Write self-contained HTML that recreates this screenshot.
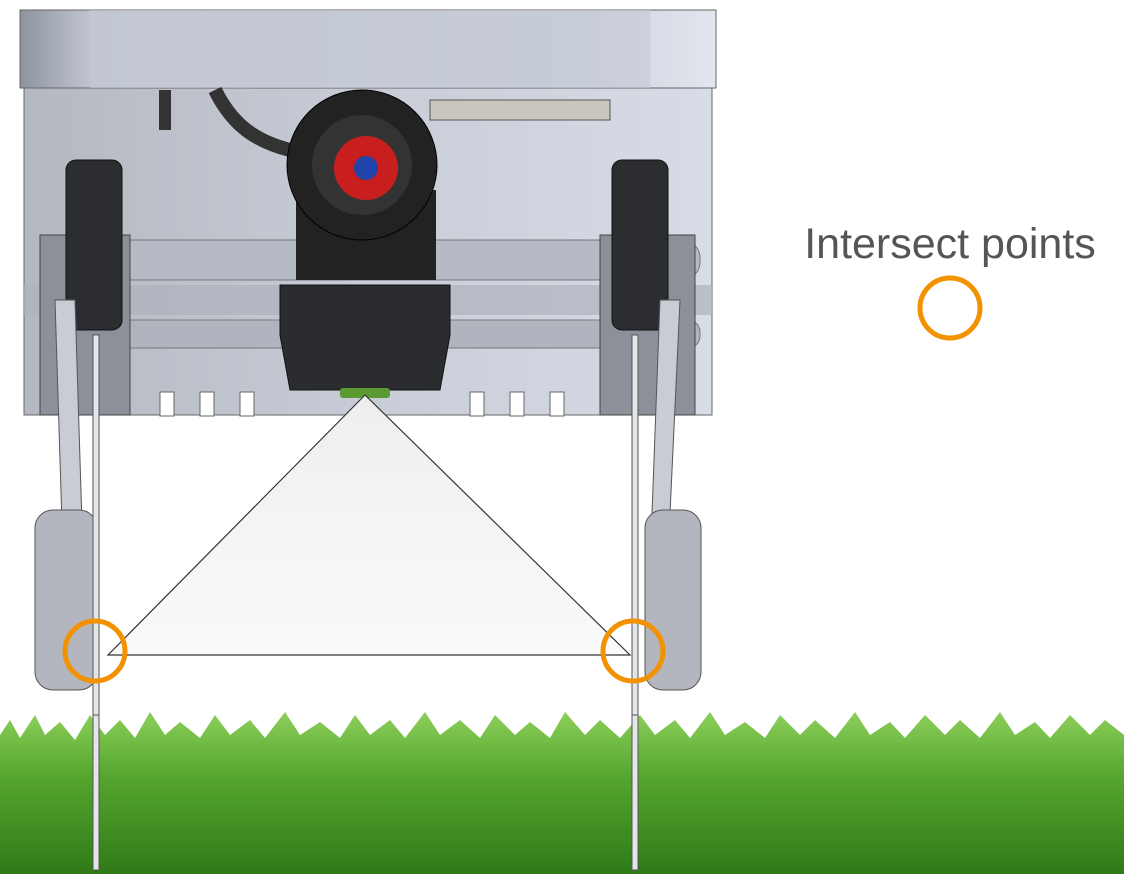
<!DOCTYPE html>
<html><head><meta charset="utf-8"><style>
html,body{margin:0;padding:0;background:#fff;}
svg{display:block}
</style></head><body>
<svg width="1124" height="874" viewBox="0 0 1124 874" xmlns="http://www.w3.org/2000/svg">
<defs>
<linearGradient id="top" x1="0" x2="1" y1="0" y2="0">
<stop offset="0" stop-color="#8e949e"/><stop offset="0.1" stop-color="#bfc4cf"/><stop offset="0.8" stop-color="#c9cfdc"/><stop offset="1" stop-color="#e2e6ee"/></linearGradient>
<linearGradient id="body" x1="0" x2="1" y1="0" y2="0">
<stop offset="0" stop-color="#b4b8c1"/><stop offset="0.5" stop-color="#c8ccd6"/><stop offset="1" stop-color="#d8dce6"/></linearGradient>
<linearGradient id="grass" x1="0" x2="0" y1="0" y2="1">
<stop offset="0" stop-color="#8ccf5a"/><stop offset="0.4" stop-color="#55a62e"/><stop offset="1" stop-color="#2f7a18"/></linearGradient>
<linearGradient id="tri" x1="0" x2="0" y1="0" y2="1">
<stop offset="0" stop-color="#eeeeee"/><stop offset="1" stop-color="#fafafa"/></linearGradient>
</defs>
<path d="M24 88 H712 V415 H24 Z" fill="url(#body)" stroke="#666" stroke-width="1"/>
<g fill="#fff" stroke="#666">
<rect x="160" y="392" width="14" height="24"/><rect x="200" y="392" width="14" height="24"/><rect x="240" y="392" width="14" height="24"/>
<rect x="470" y="392" width="14" height="24"/><rect x="510" y="392" width="14" height="24"/><rect x="550" y="392" width="14" height="24"/>
</g>
<rect x="20" y="10" width="696" height="78" fill="url(#top)" stroke="#666"/>
<rect x="90" y="10" width="560" height="78" fill="#c4cad6" opacity="0.6"/>
<rect x="40" y="240" width="660" height="40" rx="18" fill="#b6bac4" stroke="#777"/>
<rect x="40" y="320" width="660" height="28" rx="12" fill="#b0b4be" stroke="#777"/>
<rect x="24" y="285" width="688" height="30" fill="#aeb2bc" opacity="0.7"/>
<path d="M215 90 C230 120 250 140 290 150" stroke="#333" stroke-width="14" fill="none"/>
<path d="M165 90 V130" stroke="#333" stroke-width="12" fill="none"/>
<path d="M430 100 H610 V120 H430 Z" fill="#c9c6bf" stroke="#555"/>
<rect x="296" y="190" width="140" height="90" fill="#222"/>
<path d="M280 285 H450 V335 L440 390 H290 L280 335 Z" fill="#2a2c30" stroke="#111"/>
<circle cx="362" cy="165" r="75" fill="#222" stroke="#000"/>
<circle cx="362" cy="165" r="50" fill="#333"/>
<circle cx="366" cy="168" r="32" fill="#c81e1e"/>
<circle cx="366" cy="168" r="12" fill="#2244aa"/>
<rect x="340" y="388" width="50" height="10" rx="3" fill="#5a9a30"/>
<g fill="#8d9099" stroke="#444">
<rect x="40" y="235" width="90" height="180"/>
<rect x="600" y="235" width="95" height="180"/>
</g>
<g fill="#2c2d31" stroke="#111">
<rect x="66" y="160" width="56" height="170" rx="10"/>
<rect x="612" y="160" width="56" height="170" rx="10"/>
</g>
<g fill="#c8ccd4" stroke="#555">
<path d="M55 300 L75 300 L85 620 L65 620 Z"/>
<path d="M660 300 L680 300 L665 620 L648 620 Z"/>
</g>
<g fill="#b3b6be" stroke="#555">
<rect x="35" y="510" width="62" height="180" rx="18"/>
<rect x="645" y="510" width="56" height="180" rx="18"/>
</g>
<polygon points="365,395 108,655 630,655" fill="url(#tri)" stroke="#333" stroke-width="1.2"/>
<g fill="#e4e6ea" stroke="#555">
<rect x="93" y="335" width="6" height="535"/>
<rect x="632" y="335" width="6" height="535"/>
</g>
<path d="M0 735 L10 720 L20 738 L35 715 L45 735 L60 722 L75 740 L90 715 L105 735 L120 720 L135 738 L150 712 L165 735 L180 722 L200 738 L215 715 L230 735 L250 720 L265 738 L285 712 L300 735 L320 722 L340 738 L355 715 L370 735 L390 720 L405 738 L425 712 L440 735 L460 720 L480 738 L495 715 L515 735 L530 722 L550 738 L565 712 L585 735 L600 720 L620 738 L640 715 L655 735 L675 720 L690 738 L710 712 L725 735 L745 722 L765 738 L780 715 L800 735 L815 720 L835 738 L855 712 L870 735 L890 722 L905 738 L925 715 L945 735 L960 720 L980 738 L1000 712 L1015 735 L1035 722 L1050 738 L1070 715 L1090 735 L1105 720 L1124 735 V874 H0 Z" fill="url(#grass)"/>
<g fill="#e4e6ea" stroke="#555">
<rect x="93" y="715" width="6" height="155"/>
<rect x="632" y="715" width="6" height="155"/>
</g>
<g fill="none" stroke="#f39200" stroke-width="5">
<circle cx="95" cy="651" r="30"/>
<circle cx="633" cy="651" r="30"/>
<circle cx="950" cy="308" r="30"/>
</g>
<text x="950" y="258" text-anchor="middle" font-family="Liberation Sans, sans-serif" font-size="43" fill="#555">Intersect points</text>
</svg>
</body></html>
